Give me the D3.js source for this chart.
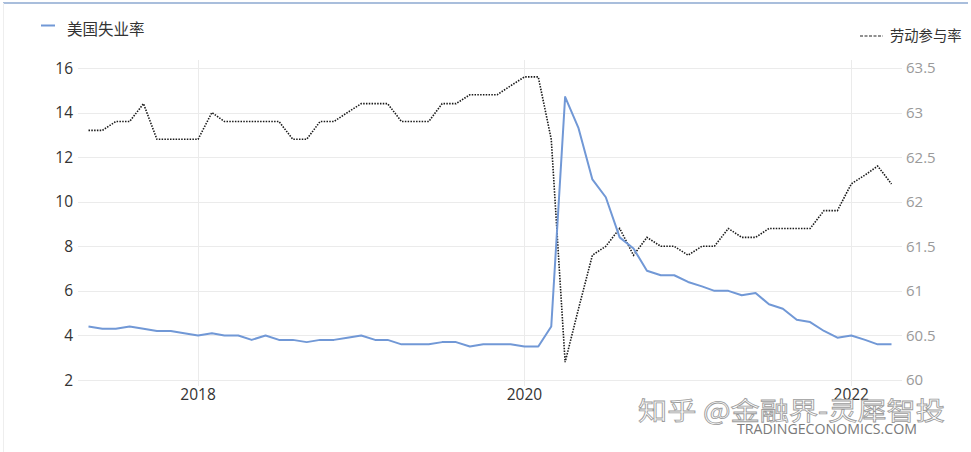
<!DOCTYPE html>
<html>
<head>
<meta charset="utf-8">
<script src="https://cdn.jsdelivr.net/npm/d3@7"></script>
<style>
  html, body { margin: 0; padding: 0; background: #fff; }
  svg { display: block; }
</style>
</head>
<body>
<svg id="chart" width="971" height="452"></svg>
<script>
// ---- Data ----
const months = [
  "2017-05","2017-06","2017-07","2017-08","2017-09","2017-10","2017-11","2017-12",
  "2018-01","2018-02","2018-03","2018-04","2018-05","2018-06","2018-07","2018-08","2018-09","2018-10","2018-11","2018-12",
  "2019-01","2019-02","2019-03","2019-04","2019-05","2019-06","2019-07","2019-08","2019-09","2019-10","2019-11","2019-12",
  "2020-01","2020-02","2020-03","2020-04","2020-05","2020-06","2020-07","2020-08","2020-09","2020-10","2020-11","2020-12",
  "2021-01","2021-02","2021-03","2021-04","2021-05","2021-06","2021-07","2021-08","2021-09","2021-10","2021-11","2021-12",
  "2022-01","2022-02","2022-03","2022-04"
];
const unemployment = [
  4.4,4.3,4.3,4.4,4.3,4.2,4.2,4.1,
  4.0,4.1,4.0,4.0,3.8,4.0,3.8,3.8,3.7,3.8,3.8,3.9,
  4.0,3.8,3.8,3.6,3.6,3.6,3.7,3.7,3.5,3.6,3.6,3.6,
  3.5,3.5,4.4,14.7,13.3,11.0,10.2,8.4,7.9,6.9,6.7,6.7,
  6.4,6.2,6.0,6.0,5.8,5.9,5.4,5.2,4.7,4.6,4.2,3.9,
  4.0,3.8,3.6,3.6
];
const participation = [
  62.8,62.8,62.9,62.9,63.1,62.7,62.7,62.7,
  62.7,63.0,62.9,62.9,62.9,62.9,62.9,62.7,62.7,62.9,62.9,63.0,
  63.1,63.1,63.1,62.9,62.9,62.9,63.1,63.1,63.2,63.2,63.2,63.3,
  63.4,63.4,62.7,60.2,60.8,61.4,61.5,61.7,61.4,61.6,61.5,61.5,
  61.4,61.5,61.5,61.7,61.6,61.6,61.7,61.7,61.7,61.7,61.9,61.9,
  62.2,62.3,62.4,62.2
];
const leftTicks = [2,4,6,8,10,12,14,16];
const rightTicks = [60,60.5,61,61.5,62,62.5,63,63.5];
const rightTickLabels = ["60","60.5","61","61.5","62","62.5","63","63.5"];
const xTickYears = ["2018","2020","2022"];
const seriesNames = ["美国失业率","劳动参与率"];

// ---- Setup ----
const svg = d3.select("#chart");
const parse = d3.timeParse("%Y-%m");
const dates = months.map(parse);
const latin = "'Open Sans', 'Noto Sans', sans-serif";
const cjk = "'Noto Sans CJK SC', 'Noto Sans', sans-serif";

const x = d3.scaleTime().domain([dates[0], dates[dates.length-1]]).range([88.5, 891.5]);
const yL = d3.scaleLinear().domain([2,16]).range([380,68]);
const yR = d3.scaleLinear().domain([60,63.5]).range([380,68]);

// frame
svg.append("line").attr("x1",3).attr("x2",968).attr("y1",3).attr("y2",3)
  .attr("stroke","#a9bedc").attr("stroke-width",2);
svg.append("line").attr("x1",3.5).attr("x2",3.5).attr("y1",3).attr("y2",452)
  .attr("stroke","#eeeeee").attr("stroke-width",1);

// horizontal grid
svg.append("g").selectAll("line").data(leftTicks).join("line")
  .attr("x1",78).attr("x2",902)
  .attr("y1",d=>Math.round(yL(d))+0.5).attr("y2",d=>Math.round(yL(d))+0.5)
  .attr("stroke","#ebebeb").attr("stroke-width",1);

// vertical grid at years
const yearDates = xTickYears.map(y=>d3.timeParse("%Y")(y));
svg.append("g").selectAll("line").data(yearDates).join("line")
  .attr("x1",d=>Math.round(x(d))+0.5).attr("x2",d=>Math.round(x(d))+0.5)
  .attr("y1",60).attr("y2",386)
  .attr("stroke","#ebebeb").attr("stroke-width",1);

// left axis labels
svg.append("g").selectAll("text").data(leftTicks).join("text")
  .attr("x",73).attr("y",d=>yL(d)).attr("dy","0.36em")
  .attr("text-anchor","end").attr("font-family",latin).attr("font-size",15.5)
  .attr("fill","#333").text(d=>d);

// right axis labels
svg.append("g").selectAll("text").data(rightTicks).join("text")
  .attr("x",906).attr("y",d=>yR(d)).attr("dy","0.36em")
  .attr("text-anchor","start").attr("font-family",latin).attr("font-size",15)
  .attr("fill","#9a9a9a").text((d,i)=>rightTickLabels[i]);

// x axis labels
svg.append("g").selectAll("text").data(yearDates).join("text")
  .attr("x",d=>x(d)).attr("y",400)
  .attr("text-anchor","middle").attr("font-family",latin).attr("font-size",15.5)
  .attr("fill","#333").text((d,i)=>xTickYears[i]);

// lines
const lineU = d3.line().x((d,i)=>x(dates[i])).y(d=>yL(d));
const lineP = d3.line().x((d,i)=>x(dates[i])).y(d=>yR(d));

svg.append("path").datum(participation).attr("d",lineP)
  .attr("fill","none").attr("stroke","#1a1a1a").attr("stroke-width",1.6)
  .attr("stroke-dasharray","1.5,1.3");

svg.append("path").datum(unemployment).attr("d",lineU)
  .attr("fill","none").attr("stroke","#7198d6").attr("stroke-width",2)
  .attr("stroke-linejoin","round");

// legends
svg.append("line").attr("x1",41).attr("x2",55).attr("y1",25.5).attr("y2",25.5)
  .attr("stroke","#7198d6").attr("stroke-width",2);
svg.append("text").attr("x",67).attr("y",35).attr("font-family",cjk)
  .attr("font-size",15.5).attr("fill","#333").text(seriesNames[0]);

svg.append("line").attr("x1",860).attr("x2",883).attr("y1",36).attr("y2",36)
  .attr("stroke","#222").attr("stroke-width",1.2).attr("stroke-dasharray","3,1.5");
svg.append("text").attr("x",890).attr("y",41).attr("font-family",cjk)
  .attr("font-size",14.3).attr("fill","#333").text(seriesNames[1]);

// watermarks
svg.append("text").attr("x",638).attr("y",420).attr("font-family",cjk)
  .attr("font-size",25.5).attr("fill","#ffffff").attr("fill-opacity",0.75)
  .attr("stroke","#9c9c9c").attr("stroke-width",0.8)
  .attr("textLength",307).attr("lengthAdjust","spacingAndGlyphs")
  .text("知乎 @金融界-灵犀智投");
svg.append("text").attr("x",737).attr("y",434).attr("font-family",latin)
  .attr("font-size",15).attr("fill","#7a7a7a")
  .attr("textLength",180).attr("lengthAdjust","spacingAndGlyphs")
  .text("TRADINGECONOMICS.COM");
</script>
</body>
</html>
